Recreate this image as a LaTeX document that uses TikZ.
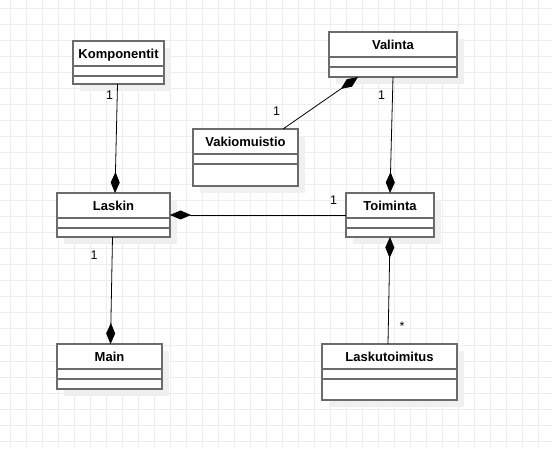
\documentclass[tikz,border=0pt]{standalone}
\usepackage{fontspec}
\setmainfont{Liberation Sans}
\usetikzlibrary{arrows.meta, calc, shadows}

\colorlet{boxgray}{black!58}
\colorlet{gridgray}{black!7}
\colorlet{shadowgray}{black!6}

% class box: name, x1, y1, x2, y2, title
\newcommand{\umlclass}[6]{%
  \node[classbox, minimum width={#4-#2}, minimum height={#5-#3}] (#1) at ({(#2+#4)/2},{(#3+#5)/2}) {};
  \node[classtitle] (#1-title) at ($(#1.north)+(0,-17.5pt)$) {#6};
  \draw[boxline] ($(#1.north west)+(0,-25pt)$) -- ($(#1.north east)+(0,-25pt)$);
  \draw[boxline] ($(#1.north west)+(0,-35pt)$) -- ($(#1.north east)+(0,-35pt)$);
}

\begin{document}
\begin{tikzpicture}[x=1pt, y=-1pt,
    classbox/.style={draw=boxgray, line width=1.4pt, fill=white, inner sep=0pt, outer sep=0pt,
      drop shadow={shadow xshift=7pt, shadow yshift=-7pt, fill=shadowgray, opacity=1}},
    boxline/.style={draw=boxgray, line width=1.4pt},
    classtitle/.style={anchor=base, inner sep=0pt, font=\bfseries\fontsize{13}{15}\selectfont},
    mult/.style={inner sep=0pt, font=\fontsize{12.5}{15}\selectfont},
    comp/.style={draw=black, line width=0.8pt, -{Diamond[length=21pt,width=9pt]}},
    gridline/.style={draw=gridgray, line width=1pt}]
  \useasboundingbox (0,0) rectangle (552,449);
  \fill[white] (0,0) rectangle (552,449);

  % Grid
  \foreach \gx in {10,26,...,550} \draw[gridline] (\gx,0) -- (\gx,449);
  \foreach \gy in {9,25,...,441} \draw[gridline] (0,\gy) -- (552,\gy);

  % Classes
  \umlclass{komp}{73}{41}{164}{84}{Komponentit}
  \umlclass{valinta}{329}{32}{457}{77}{Valinta}
  \umlclass{vakio}{193}{129}{298}{186}{Vakiomuistio}
  \umlclass{laskin}{57}{193}{170}{237}{Laskin}
  \umlclass{toiminta}{346}{193}{434}{237}{Toiminta}
  \umlclass{main}{57}{344}{162}{389}{Main}
  \umlclass{lasku}{322}{344}{457}{400}{Laskutoimitus}

  % Compositions
  \draw[comp] ([xshift=-1pt]komp.south) -- ([xshift=1.5pt]laskin.north);
  \draw[comp] ([xshift=-15pt]vakio.north east) -- ([xshift=29pt]valinta.south west);
  \draw[comp] (valinta.south) -- (toiminta.north);
  \draw[comp] (toiminta.west) -- (laskin.east);
  \draw[comp] ([xshift=-1pt]laskin.south) -- ([xshift=1pt]main.north);
  \draw[comp] ([xshift=-1.5pt]lasku.north) -- (toiminta.south);

  % Multiplicities
  \node[mult] (m-komp) at (109.5,95) {1};
  \node[mult] (m-vakio) at (276.5,111.5) {1};
  \node[mult] (m-valinta) at (381.5,95) {1};
  \node[mult] (m-toiminta) at (333.5,200) {1};
  \node[mult] (m-laskin) at (94,255) {1};
  \node[mult] (m-lasku) at (402,326) {*};
\end{tikzpicture}
\end{document}
